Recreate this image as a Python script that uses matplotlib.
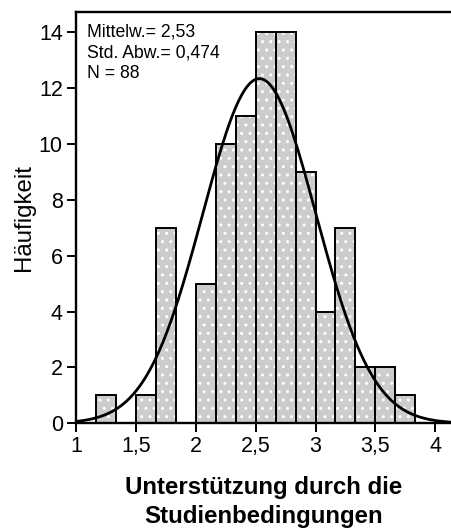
import numpy as np
import matplotlib
matplotlib.use("Agg")
import matplotlib.pyplot as plt

plt.rcParams['font.family'] = ['Liberation Sans', 'DejaVu Sans']
plt.rcParams['hatch.color'] = 'white'
plt.rcParams['hatch.linewidth'] = 1.0

# Histogram of scores (bin width 1/6)
bin_left = [7/6, 8/6, 9/6, 10/6, 11/6, 12/6, 13/6, 14/6, 15/6, 16/6, 17/6, 18/6, 19/6, 20/6, 21/6, 22/6]
counts   = [1,   0,   1,   7,    0,    5,    10,   11,   14,   14,   9,    4,    7,    2,    2,    1]
bin_width = 1/6

mean_val = 2.53
std_val = 0.474
n_total = 88

x_ticks = [1, 1.5, 2, 2.5, 3, 3.5, 4]
x_tick_labels = ["1", "1,5", "2", "2,5", "3", "3,5", "4"]
y_ticks = [0, 2, 4, 6, 8, 10, 12, 14]

fig = plt.figure(figsize=(4.52, 5.32), dpi=100)
ax = fig.add_axes([76/452, 1 - 423.3/532, 1 - 76/452, (423.3 - 12)/532])

nonzero = [i for i, c in enumerate(counts) if c > 0]
lefts = [bin_left[i] for i in nonzero]
heights = [counts[i] for i in nonzero]

# textured fill, then outlines on top
ax.bar(lefts, heights, width=bin_width, align='edge', color='#cccccc',
       edgecolor='white', linewidth=0, hatch='..', zorder=2)
ax.bar(lefts, heights, width=bin_width, align='edge', fill=False,
       edgecolor='black', linewidth=1.4, zorder=3)

# fitted normal curve
xs = np.linspace(1.0, 4.15, 400)
ys = n_total * bin_width * np.exp(-0.5 * ((xs - mean_val) / std_val) ** 2) / (std_val * np.sqrt(2 * np.pi))
ax.plot(xs, ys, color='black', linewidth=2.0, zorder=4, clip_on=False)

ax.set_xlim(0.997, 4.141)
ax.set_ylim(0, 14.73)
ax.set_xticks(x_ticks)
ax.set_xticklabels(x_tick_labels)
ax.set_yticks(y_ticks)

for side in ['top', 'left', 'bottom']:
    ax.spines[side].set_linewidth(1.7)
ax.spines['right'].set_visible(False)
ax.tick_params(axis='both', direction='out', length=6.5, width=1.4,
               labelsize=15.5, pad=2.5)
ax.tick_params(axis='y', pad=3)

ax.set_ylabel("Häufigkeit", fontsize=17.3, labelpad=2.5)
ax.set_xlabel("Unterstützung durch die\nStudienbedingungen", fontsize=17.3,
              fontweight='bold', labelpad=14, linespacing=1.3)

ax.text(0.029, 0.973, "Mittelw.= 2,53\nStd. Abw.= 0,474\nN = 88",
        transform=ax.transAxes, ha='left', va='top', fontsize=12.7,
        linespacing=1.3, zorder=5)

fig.savefig("out.png", dpi=100)
